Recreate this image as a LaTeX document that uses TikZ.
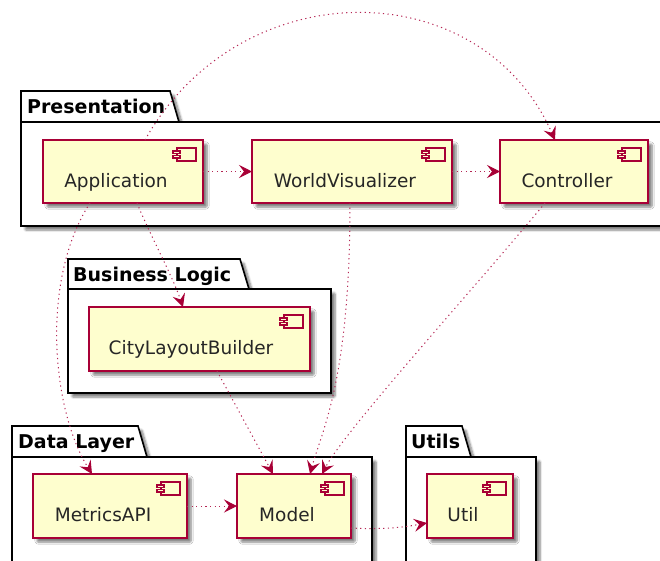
\documentclass[tikz,border=0pt]{standalone}
\usepackage{fontspec}
\setmainfont{DejaVu Sans}
\usetikzlibrary{arrows.meta,calc,shadows.blur}
\definecolor{pred}{HTML}{A80036}
\definecolor{pyel}{HTML}{FEFECE}
\newcommand\compicon[1]{%
  \draw[icon] ($(#1.north east)+(-26,8)$) rectangle ($(#1.north east)+(-7,21)$);
  \draw[icon] ($(#1.north east)+(-30,11)$) rectangle ($(#1.north east)+(-23,13.5)$);
  \draw[icon] ($(#1.north east)+(-30,15.5)$) rectangle ($(#1.north east)+(-23,18)$);
}
\begin{document}
\begin{tikzpicture}[x=1pt,y=-1pt,
  shad/.style={blur shadow={shadow xshift=4pt, shadow yshift=-4pt, shadow blur steps=6, shadow blur extra rounding=1pt, shadow opacity=50}},
  comp/.style={rectangle, draw=pred, fill=pyel, line width=1.4pt, inner sep=0pt, outer sep=0pt, shad},
  pkg/.style={draw=black, fill=white, line width=1.6pt, line join=miter, shad},
  ptitle/.style={font=\fontsize{19}{19}\selectfont\bfseries, anchor=base west, inner sep=0pt},
  clabel/.style={font=\fontsize{18.5}{18.5}\selectfont, anchor=base, inner sep=0pt, text=black!85},
  dep/.style={pred!85, line width=1pt, dash pattern=on 1.2pt off 3.4pt,
    -{Stealth[length=13pt,width=13pt,inset=5pt,color=pred]}},
  icon/.style={draw=pred, fill=pyel, line width=1.1pt}
]
\useasboundingbox (0,0) rectangle (660,560);
\clip (0,0) rectangle (660,560);

% packages
\path[pkg] (21,122) -- (21,91) -- (170,91) -- (179,122) -- (666,122) -- (666,226) -- (21,226) -- cycle;
\draw[line width=1.6pt] (21,122) -- (179,122);
\node[ptitle] (tPres) at (27,113) {Presentation};

\path[pkg] (68,289) -- (68,259) -- (240,259) -- (249,289) -- (331,289) -- (331,393) -- (68,393) -- cycle;
\draw[line width=1.6pt] (68,289) -- (249,289);
\node[ptitle] (tBus) at (73,281) {Business Logic};

\path[pkg] (12,457) -- (12,426) -- (138,426) -- (147,457) -- (372,457) -- (372,570) -- (12,570) -- cycle;
\draw[line width=1.6pt] (12,457) -- (147,457);
\node[ptitle] (tData) at (18,448) {Data Layer};

\path[pkg] (406,457) -- (406,426) -- (462,426) -- (471,457) -- (536,457) -- (536,570) -- (406,570) -- cycle;
\draw[line width=1.6pt] (406,457) -- (471,457);
\node[ptitle] (tUtil) at (411,448) {Utils};

% components
\node[comp, minimum width=160pt, minimum height=63pt] (app) at (123,171.5) {};
\node[comp, minimum width=200pt, minimum height=63pt] (wv) at (352,171.5) {};
\node[comp, minimum width=148pt, minimum height=63pt] (ctrl) at (574,171.5) {};
\node[comp, minimum width=221pt, minimum height=64pt] (clb) at (199.5,339) {};
\node[comp, minimum width=154pt, minimum height=64pt] (met) at (110,506) {};
\node[comp, minimum width=114pt, minimum height=64pt] (model) at (294,506) {};
\node[comp, minimum width=86pt, minimum height=64pt] (util) at (470,506) {};

\foreach \n in {app,wv,ctrl,clb,met,model,util} {\compicon{\n}}

\node[clabel] (appL) at (116,187) {Application};
\node[clabel] (wvL) at (345,187) {WorldVisualizer};
\node[clabel] (ctrlL) at (567,187) {Controller};
\node[clabel] (clbL) at (191,354) {CityLayoutBuilder};
\node[clabel] (metL) at (103,521) {MetricsAPI};
\node[clabel] (modelL) at (287,521) {Model};
\node[clabel] (utilL) at (463,521) {Util};

% dependencies
\draw[dep] (app.east) -- (wv.west);
\draw[dep] (wv.east) -- (ctrl.west);
\draw[dep] ($(app.north)+(22,0)$) .. controls (240,-29) and (480,-29) .. ($(ctrl.north)+(-19,0)$);
\draw[dep] ($(app.south)+(14,0)$) .. controls (150,235) and (172,275) .. ($(clb.north)+(-16.5,0)$);
\draw[dep] ($(app.south)+(-33,0)$) .. controls (40,280) and (52,410) .. ($(met.north)+(-18,0)$);
\draw[dep] ($(clb.south)+(17.5,0)$) -- ($(model.north)+(-21,0)$);
\draw[dep] ($(wv.south)+(-2,0)$) .. controls (350,380) and (322,430) .. ($(model.north)+(16,0)$);
\draw[dep] ($(ctrl.south)+(-29,0)$) .. controls (480,282) and (345,430) .. ($(model.north)+(28,0)$);
\draw[dep] (met.east) -- (model.west);
\draw[dep] ($(model.east)+(0,22)$) .. controls (390,530) and (410,526) .. ($(util.west)+(0,17)$);
\end{tikzpicture}
\end{document}
